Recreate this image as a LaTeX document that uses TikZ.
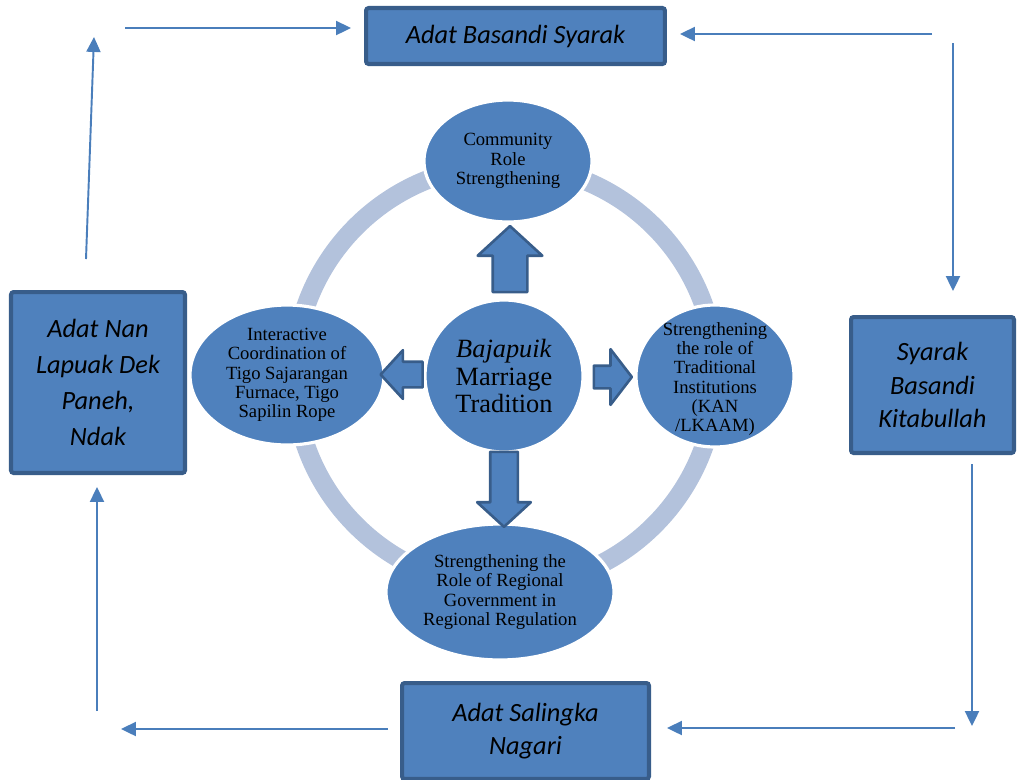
\documentclass[tikz,border=0pt]{standalone}
\usepackage{fontspec}
\setmainfont{Liberation Serif}
\newfontfamily\carlito{Carlito}
\usetikzlibrary{shapes.geometric,shapes.arrows,arrows.meta,calc}
\definecolor{fillBlue}{HTML}{4F81BD}
\definecolor{edgeBlue}{HTML}{385D8A}
\definecolor{lineBlue}{HTML}{4A7EBB}
\definecolor{ringBlue}{HTML}{B3C2DC}
\tikzstyle{labeledBox}=[shape = rectangle, rounded corners = 1.5pt, fill = fillBlue, draw = edgeBlue, line width = 2.3pt, inner sep = 0pt, align = center, font = \carlito\itshape\fontsize{15}{19}\selectfont]
\tikzstyle{labeledEllipse}=[shape = ellipse, fill = fillBlue, draw = white, line width = 1.8pt, inner sep = 0pt]
\tikzstyle{ellipseText}=[align = center, inner sep = 0pt, font = \fontsize{10.6}{11}\selectfont]
\tikzstyle{blockArrow}=[shape = single arrow, fill = fillBlue, draw = edgeBlue, line width = 1.5pt, line join = round, inner xsep = 0pt, single arrow tip angle = 95, single arrow head indent = 0pt]
\tikzstyle{flowEdge}=[draw = lineBlue, line width = 1.1pt, -{Triangle[length = 8.5pt, width = 8pt]}]

\begin{document}
\begin{tikzpicture}[x = 0.02cm, y = -0.02cm]
\useasboundingbox (0,0) rectangle (1022,779);
\clip (0,0) rectangle (1022,779);
\draw[ringBlue, line width = 10.8pt] (505,376) circle [radius = 211];
\node[labeledEllipse, minimum width = 3.16cm, minimum height = 3.04cm, label = {[ellipseText, font = \fontsize{15}{15.5}\selectfont]center:{\textit{Bajapuik}\\Marriage\\Tradition}}] (core) at (504,376) {};
\node[labeledEllipse, minimum width = 3.36cm, minimum height = 2.44cm, label = {[ellipseText]center:{Community\\Role\\Strengthening}}] (role) at (508,161) {};
\node[labeledEllipse, minimum width = 3.88cm, minimum height = 2.80cm, label = {[ellipseText]center:{Interactive\\Coordination of\\Tigo Sajarangan\\Furnace, Tigo\\Sapilin Rope}}] (coord) at (287,375) {};
\node[labeledEllipse, minimum width = 3.16cm, minimum height = 2.84cm, label = {[ellipseText, yshift = -0.06cm]center:{Strengthening\\the role of\\Traditional\\Institutions\\(KAN\\/LKAAM)}}] (inst) at (715,376) {};
\node[labeledEllipse, minimum width = 4.56cm, minimum height = 2.72cm, label = {[ellipseText]center:{Strengthening the\\Role of Regional\\Government in\\Regional Regulation}}] (gov) at (500,592) {};
\node[blockArrow, rotate = 90, minimum height = 1.32cm, minimum width = 1.24cm, inner ysep = 0.32cm, single arrow head extend = 0.3cm] (toRole) at ($(core.north)!0.5!(role.south) + (4,6)$) {};
\node[blockArrow, rotate = -90, minimum height = 1.5cm, minimum width = 1.02cm, inner ysep = 0.25cm, single arrow head extend = 0.26cm] (toGov) at ($(core.south)!0.5!(gov.north) + (2,-5)$) {};
\node[blockArrow, single arrow tip angle = 105, minimum height = 0.76cm, minimum width = 1.06cm, inner ysep = 0.2cm, single arrow head extend = 0.33cm] (toInst) at ($(core.east)!0.5!(inst.west) + (-1,1)$) {};
\node[blockArrow, rotate = 180, minimum height = 0.84cm, minimum width = 0.92cm, inner ysep = 0.23cm, single arrow head extend = 0.23cm] (toCoord) at ($(core.west)!0.5!(coord.east) + (3,-1)$) {};
\node[labeledBox, minimum width = 5.98cm, minimum height = 1.12cm] (syarak) at (515.5,36) {Adat Basandi Syarak};
\node[labeledBox, minimum width = 3.26cm, minimum height = 2.72cm] (kitab) at (932.5,385) {Syarak\\Basandi\\Kitabullah};
\node[labeledBox, minimum width = 4.94cm, minimum height = 1.92cm] (nagari) at (525.5,731) {Adat Salingka\\Nagari};
\node[labeledBox, minimum width = 3.48cm, minimum height = 3.62cm, font = \carlito\itshape\fontsize{15}{20.5}\selectfont] (lapuak) at (98,382.5) {Adat Nan\\Lapuak Dek\\Paneh,\\Ndak};
\coordinate (a1) at (86,259);
\coordinate (a2) at (94,37);
\coordinate (b1) at (125,28);
\coordinate (b2) at (351,28);
\coordinate (c1) at (932,34);
\coordinate (c2) at (680,34);
\coordinate (d1) at (953,43);
\coordinate (d2) at (953,291);
\coordinate (e1) at (972,464);
\coordinate (e2) at (972,726);
\coordinate (f1) at (955,728);
\coordinate (f2) at (667,728);
\coordinate (g1) at (388,729);
\coordinate (g2) at (121,729);
\coordinate (h1) at (97,711);
\coordinate (h2) at (97,487);
\draw[flowEdge] (a1) -- (a2);
\draw[flowEdge] (b1) -- (b2);
\draw[flowEdge] (c1) -- (c2);
\draw[flowEdge] (d1) -- (d2);
\draw[flowEdge] (e1) -- (e2);
\draw[flowEdge] (f1) -- (f2);
\draw[flowEdge] (g1) -- (g2);
\draw[flowEdge] (h1) -- (h2);
\end{tikzpicture}
\end{document}
